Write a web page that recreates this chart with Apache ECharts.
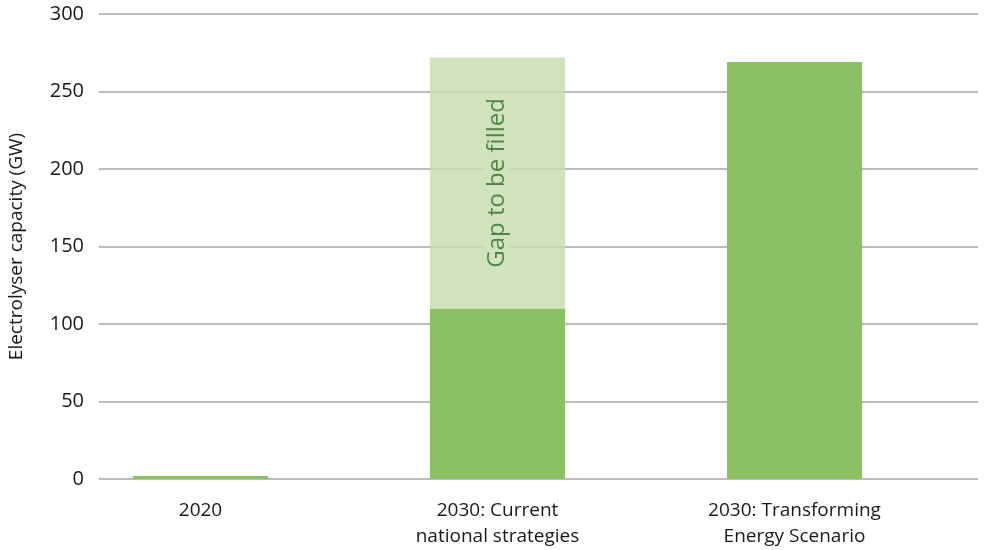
<!DOCTYPE html>
<html><head><meta charset="utf-8">
<script src="https://cdn.jsdelivr.net/npm/echarts@6/dist/echarts.min.js"></script>
<style>html,body{margin:0;padding:0;background:#fff}#c{width:992px;height:550px}</style>
</head><body><div id="c"></div>
<script>
const categories = ['2020', '2030: Current\nnational strategies', '2030: Transforming\nEnergy Scenario'];
const installed = [2, 110, 269];
const gap = ['-', 162, '-'];
const yTicks = { min: 0, max: 300, interval: 50 };
const yName = 'Electrolyser capacity (GW)';
const gapLabel = 'Gap to be filled';

const font = 'Open Sans';
const chart = echarts.init(document.getElementById('c'));
chart.setOption({
  animation: false,
  grid: [
    { left: 99, right: 14, top: 14, bottom: 71, outerBoundsMode: 'none', containLabel: false },
    { left: 52, right: 49, top: 14, bottom: 71, outerBoundsMode: 'none', containLabel: false }
  ],
  xAxis: [
    { gridIndex: 0, type: 'value', min: 0, max: 1, show: false },
    { gridIndex: 1, type: 'category', data: categories,
      axisLine: { show: false },
      axisTick: { show: false },
      axisLabel: { color: '#1a1a1a', fontSize: 19, fontFamily: font, margin: 19, lineHeight: 26 } }
  ],
  yAxis: [
    { gridIndex: 0, type: 'value', min: yTicks.min, max: yTicks.max, interval: yTicks.interval,
      name: yName, nameLocation: 'middle', nameGap: 73,
      nameTextStyle: { color: '#1a1a1a', fontSize: 19, fontFamily: font },
      axisLine: { show: false }, axisTick: { show: false },
      axisLabel: { color: '#1a1a1a', fontSize: 20, fontFamily: font, margin: 15 },
      splitLine: { lineStyle: { color: '#a6a6a6', width: 1.5 } } },
    { gridIndex: 1, type: 'value', min: yTicks.min, max: yTicks.max, interval: yTicks.interval, show: false }
  ],
  series: [
    { type: 'bar', xAxisIndex: 1, yAxisIndex: 1, stack: 's', data: installed, barWidth: '45.5%',
      itemStyle: { color: '#8bc063' } },
    { type: 'bar', xAxisIndex: 1, yAxisIndex: 1, stack: 's', data: gap, barWidth: '45.5%',
      itemStyle: { color: 'rgb(201,222,178)', opacity: 0.85 },
      label: { show: true, formatter: gapLabel, position: 'inside', rotate: 90,
        color: '#3a7630', fontSize: 24, fontFamily: font,
        backgroundColor: '#d1e3c0', padding: [0, 3] } }
  ]
});
</script></body></html>
